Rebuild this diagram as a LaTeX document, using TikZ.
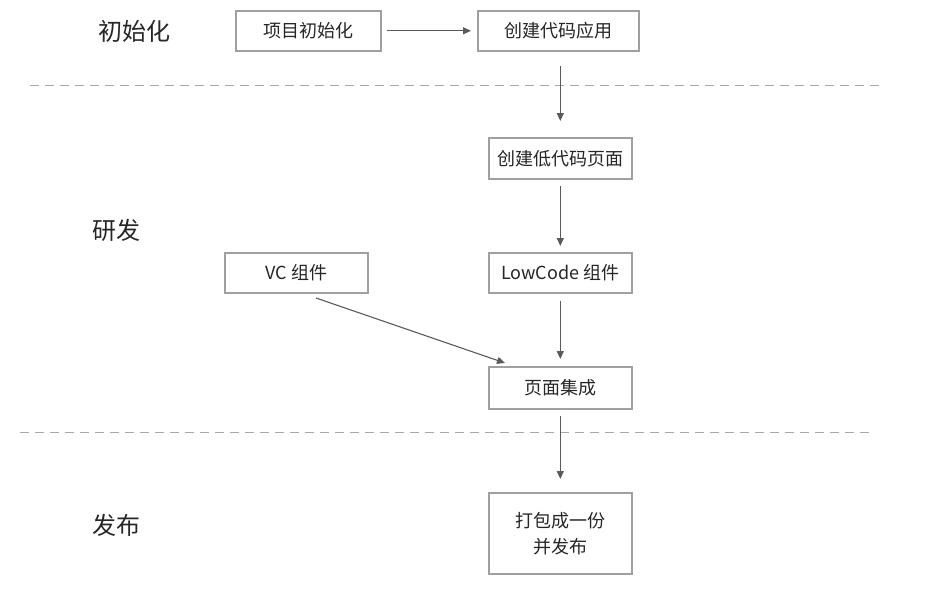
\documentclass[tikz,border=0pt]{standalone}
\usepackage{fontspec}
\setmainfont{Noto Sans CJK SC}
\usetikzlibrary{arrows.meta}
\definecolor{boxgray}{HTML}{A0A0A0}
\definecolor{arrgray}{HTML}{5A5A5A}
\definecolor{dashgray}{HTML}{A8A8A8}
\begin{document}
\begin{tikzpicture}[x=1pt,y=-1pt,
  box/.style={draw=boxgray,line width=1.6pt,fill=white,minimum width=143pt,minimum height=40pt,inner sep=2pt,font=\fontsize{18}{26}\selectfont,align=center,anchor=north west,text=black!85},
  lbl/.style={font=\fontsize{24}{28}\selectfont,text=black!85},
  arr/.style={draw=arrgray,line width=1.1pt,-{Triangle[length=8pt,width=7pt]}},
  sep/.style={draw=dashgray,line width=1pt,dash pattern=on 9pt off 6pt}]
\useasboundingbox (0,0) rectangle (933,594);
\node[box,minimum width=145pt] (init) at (235,10) {项目初始化};
\node[box,minimum width=161pt] (app) at (477,10) {创建代码应用};
\node[box,minimum height=41pt] (page) at (488,137) {创建低代码页面};
\node[box] (lc) at (488,252) {LowCode 组件};
\node[box] (vc) at (224,252) {VC 组件};
\node[box,minimum height=42pt] (integ) at (488,366) {页面集成};
\node[box,minimum height=81pt] (pub) at (488,492) {打包成一份\\并发布};
\node[lbl] (l1) at (134,31) {初始化};
\node[lbl] (l2) at (116,230) {研发};
\node[lbl] (l3) at (116,525) {发布};
\coordinate (d1a) at (30,85); \coordinate (d1b) at (882,85);
\coordinate (d2a) at (20,432); \coordinate (d2b) at (872,432);
\draw[sep] (d1a) -- (d1b);
\draw[sep] (d2a) -- (d2b);
\draw[arr,shorten <=5pt,shorten >=6pt] (init.east) -- (app.west);
\draw[arr,shorten <=14pt,shorten >=16pt] (app.south -| page.north) -- (page.north);
\draw[arr,shorten <=6pt,shorten >=6pt] (page.south) -- (lc.north);
\draw[arr,shorten <=7pt,shorten >=7pt] (lc.south) -- (integ.north);
\draw[arr,shorten <=6pt,shorten >=13pt] (integ.south) -- (pub.north);
\coordinate (vcs) at (316,298);
\coordinate (ie) at (505,363);
\draw[arr] (vcs) -- (ie);
\end{tikzpicture}
\end{document}
